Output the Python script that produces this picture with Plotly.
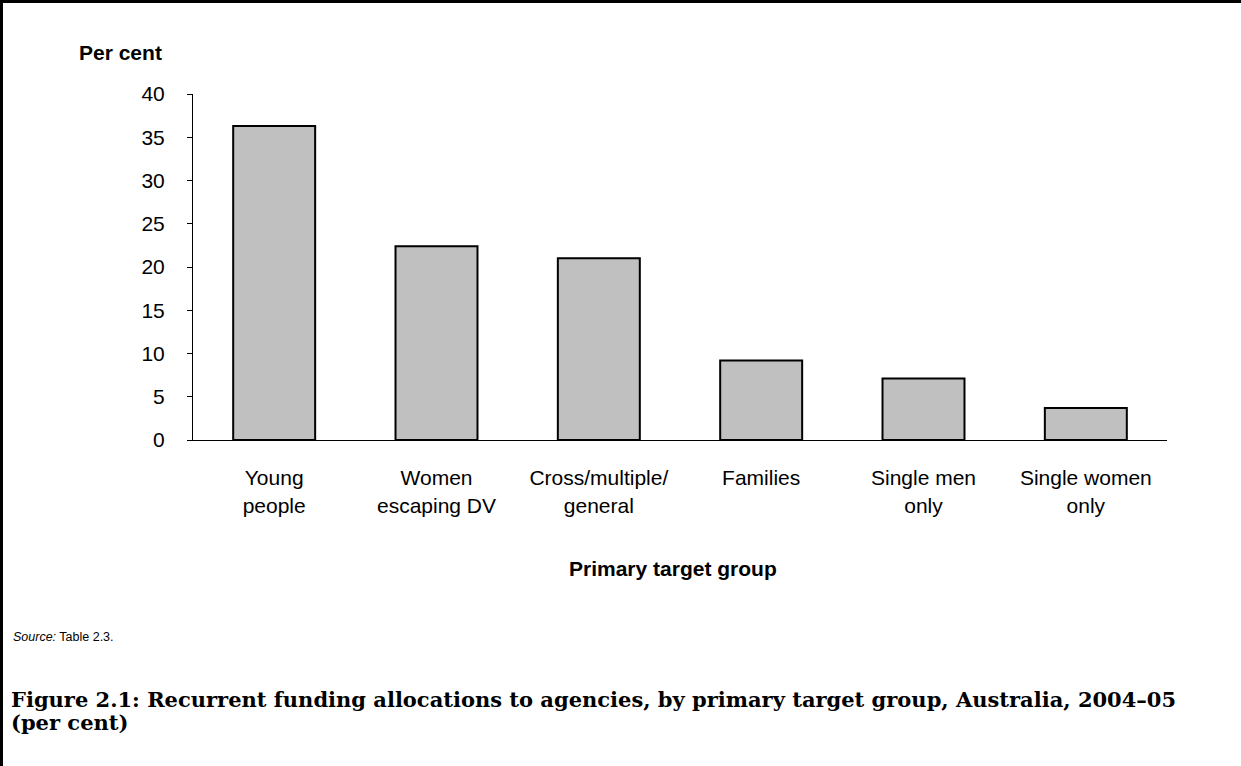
import plotly.graph_objects as go

categories = ["Young<br>people", "Women<br>escaping DV", "Cross/multiple/<br>general",
              "Families", "Single men<br>only", "Single women<br>only"]
values = [36.3, 22.4, 21.0, 9.2, 7.1, 3.7]
y_ticks = [0, 5, 10, 15, 20, 25, 30, 35, 40]

W, H = 1241, 766
L, R, T, B = 193, 74, 94, 326
pw, ph = W - L - R, H - T - B

def px(x):
    return (x - L) / pw

def py(y):
    return (H - B - y) / ph

fig = go.Figure()
fig.add_trace(go.Bar(
    x=categories, y=values,
    marker=dict(color="#c0c0c0", line=dict(color="#000000", width=2)),
    width=0.505,
))

fig.update_layout(
    width=W, height=H,
    margin=dict(l=L, r=R, t=T, b=B),
    paper_bgcolor="white", plot_bgcolor="white",
    showlegend=False,
    font=dict(family="Arial, Liberation Sans, sans-serif", size=21, color="#000"),
    xaxis=dict(
        showline=True, linecolor="#000", linewidth=1,
        ticks="", showgrid=False, tickfont=dict(size=21),
        ticklabelstandoff=19,
    ),
    yaxis=dict(
        range=[0, 40], tickvals=y_ticks, showline=True, linecolor="#000", linewidth=1,
        ticks="outside", ticklen=5, tickcolor="#000", showgrid=False, zeroline=False,
        tickfont=dict(size=21), ticklabelstandoff=18,
    ),
)

fig.add_annotation(text="<b>Per cent</b>", xref="paper", yref="paper",
                   x=px(164), y=py(53), xanchor="right", yanchor="middle",
                   showarrow=False, font=dict(size=21))
fig.add_annotation(text="<b>Primary target group</b>", xref="paper", yref="paper",
                   x=px(673), y=py(568), xanchor="center", yanchor="middle",
                   showarrow=False, font=dict(size=21))
fig.add_annotation(text="<i>Source:</i> Table 2.3.", xref="paper", yref="paper",
                   x=px(11), y=py(637), xanchor="left", yanchor="middle",
                   showarrow=False, font=dict(size=12.5))
title_font = dict(size=21, family="Palatino Linotype, Book Antiqua, Palatino, DejaVu Serif, serif")
fig.add_annotation(
    text="<b>Figure 2.1: Recurrent funding allocations to agencies, by primary target group, Australia, 2004–05</b>",
    xref="paper", yref="paper", x=px(9), y=py(699), xanchor="left", yanchor="middle",
    showarrow=False, font=title_font)
fig.add_annotation(
    text="<b>(per cent)</b>",
    xref="paper", yref="paper", x=px(9), y=py(722), xanchor="left", yanchor="middle",
    showarrow=False, font=title_font)

# frame: top and left border
fig.add_shape(type="line", xref="paper", yref="paper", x0=px(0), x1=px(W), y0=py(1.5), y1=py(1.5),
              line=dict(color="#000", width=3))
fig.add_shape(type="line", xref="paper", yref="paper", x0=px(1.5), x1=px(1.5), y0=py(0), y1=py(H),
              line=dict(color="#000", width=3))

fig.write_html("out.html", config={"displayModeBar": False},
               post_script="document.body.style.margin='0';")
